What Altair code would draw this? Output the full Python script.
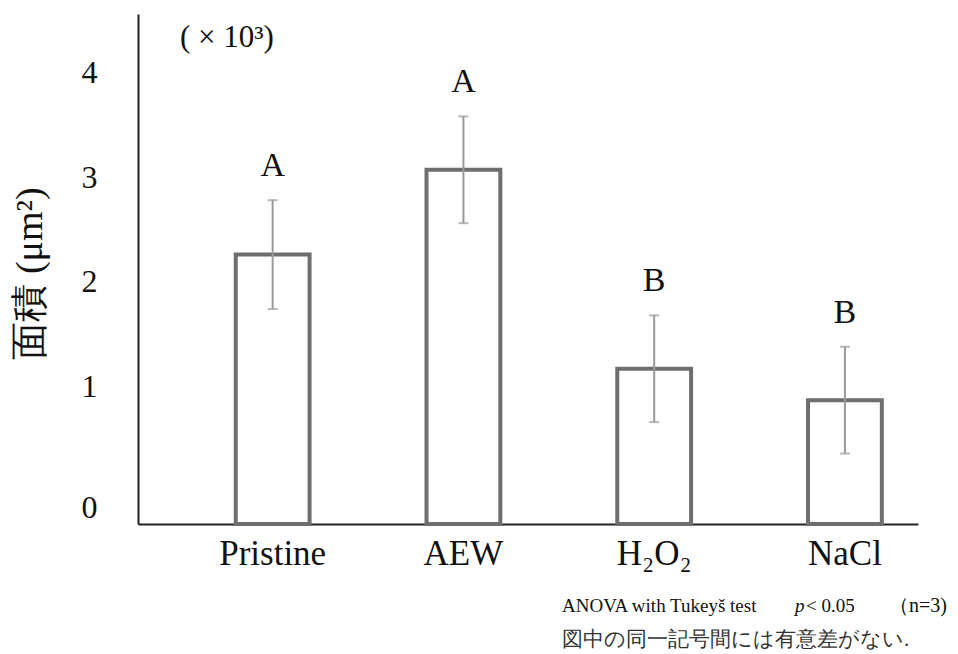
import altair as alt
import pandas as pd

# ---- data ----
categories = ["Pristine", "AEW", "H₂O₂", "NaCl"]
means = [2.26, 3.07, 1.17, 0.87]          # (x10^3 um^2)
errors = [0.52, 0.51, 0.51, 0.51]
letters = ["A", "A", "B", "B"]
y_ticks = [0, 1, 2, 3, 4]

Y_MIN, Y_MAX = -0.313, 4.558

SERIF = "Liberation Serif"

df = pd.DataFrame({
    "cat": categories,
    "mean": means,
    "err": errors,
    "letter": letters,
})
df["lo"] = df["mean"] - df["err"]
df["hi"] = df["mean"] + df["err"]

W, H = 780, 510

xscale = alt.Scale(domain=categories, paddingInner=0.613, paddingOuter=0.351, align=0.73)
yscale = alt.Scale(domain=[Y_MIN, Y_MAX], nice=False, zero=False)

x_enc = alt.X("cat:N", scale=xscale, sort=categories,
              axis=alt.Axis(title=None, labelAngle=0, ticks=False, domain=True,
                            domainColor="#222222", domainWidth=2,
                            labelFont=SERIF, labelFontSize=35, labelColor="#111111",
                            labelPadding=12))

base = alt.Chart(df)

bars = base.mark_bar(fill="white", stroke="#6e6e6e", strokeWidth=4).encode(
    x=x_enc,
    y=alt.Y("mean:Q", scale=yscale,
            axis=alt.Axis(values=y_ticks, format="d", ticks=False, grid=False, domain=True,
                          domainColor="#222222", domainWidth=2,
                          labelFont=SERIF, labelFontSize=32, labelColor="#111111",
                          labelPadding=41, labelOverlap=False, labelFlush=False,
                          labelOffset={"condition": {"test": "datum.value == 0", "value": 16}, "value": 0},
                          title="面積 (μm²)", titleFont=SERIF, titleFontSize=38,
                          titleFontWeight="normal", titleColor="#111111",
                          titleAngle=270, titleX=-108, titleY=259,
                          titleAlign="center", titleBaseline="middle")),
    y2=alt.datum(Y_MIN),
)

err_rule = base.mark_rule(color="#9a9a9a", strokeWidth=2).encode(
    x=alt.X("cat:N", scale=xscale, sort=categories),
    y=alt.Y("lo:Q", scale=yscale),
    y2="hi:Q",
)
cap_lo = base.mark_tick(color="#9a9a9a", thickness=2, size=10).encode(
    x=alt.X("cat:N", scale=xscale, sort=categories),
    y=alt.Y("lo:Q", scale=yscale),
)
cap_hi = base.mark_tick(color="#9a9a9a", thickness=2, size=10).encode(
    x=alt.X("cat:N", scale=xscale, sort=categories),
    y=alt.Y("hi:Q", scale=yscale),
)

letter_text = base.mark_text(font=SERIF, fontSize=34, color="#111111", dy=-34,
                             baseline="middle").encode(
    x=alt.X("cat:N", scale=xscale, sort=categories),
    y=alt.Y("hi:Q", scale=yscale),
    text="letter:N",
)

unit = alt.Chart(pd.DataFrame({"t": ["( × 10³)"]})).mark_text(
    font=SERIF, fontSize=31, color="#111111", align="left", baseline="middle"
).encode(x=alt.value(42), y=alt.value(24), text="t:N")

note1 = alt.Chart(pd.DataFrame({"t": ["ANOVA with Tukeyš test"]})).mark_text(
    font=SERIF, fontSize=19, color="#111111", align="left", baseline="middle"
).encode(x=alt.value(424), y=alt.value(592), text="t:N")
note_p = alt.Chart(pd.DataFrame({"t": ["p"]})).mark_text(
    font=SERIF, fontSize=19, fontStyle="italic", color="#111111", align="left", baseline="middle"
).encode(x=alt.value(657), y=alt.value(592), text="t:N")
note_v = alt.Chart(pd.DataFrame({"t": ["< 0.05"]})).mark_text(
    font=SERIF, fontSize=19, color="#111111", align="left", baseline="middle"
).encode(x=alt.value(668), y=alt.value(592), text="t:N")
note_n = alt.Chart(pd.DataFrame({"t": ["（n=3)"]})).mark_text(
    font=SERIF, fontSize=20, color="#111111", align="left", baseline="middle"
).encode(x=alt.value(751), y=alt.value(592), text="t:N")
note2 = alt.Chart(pd.DataFrame({"t": ["図中の同一記号間には有意差がない."]})).mark_text(
    font=SERIF, fontSize=21, color="#333333", align="left", baseline="middle"
).encode(x=alt.value(424), y=alt.value(626), text="t:N")

chart = alt.layer(
    bars, err_rule, cap_lo, cap_hi, letter_text, unit, note1, note_p, note_v, note_n, note2
).properties(
    width=W, height=H,
    autosize=alt.AutoSizeParams(type="none"),
    padding={"left": 138, "top": 14, "right": 40, "bottom": 130},
    background="white",
).configure_view(stroke=None)

chart.save("out.html", embed_options={"renderer": "svg", "actions": False})
